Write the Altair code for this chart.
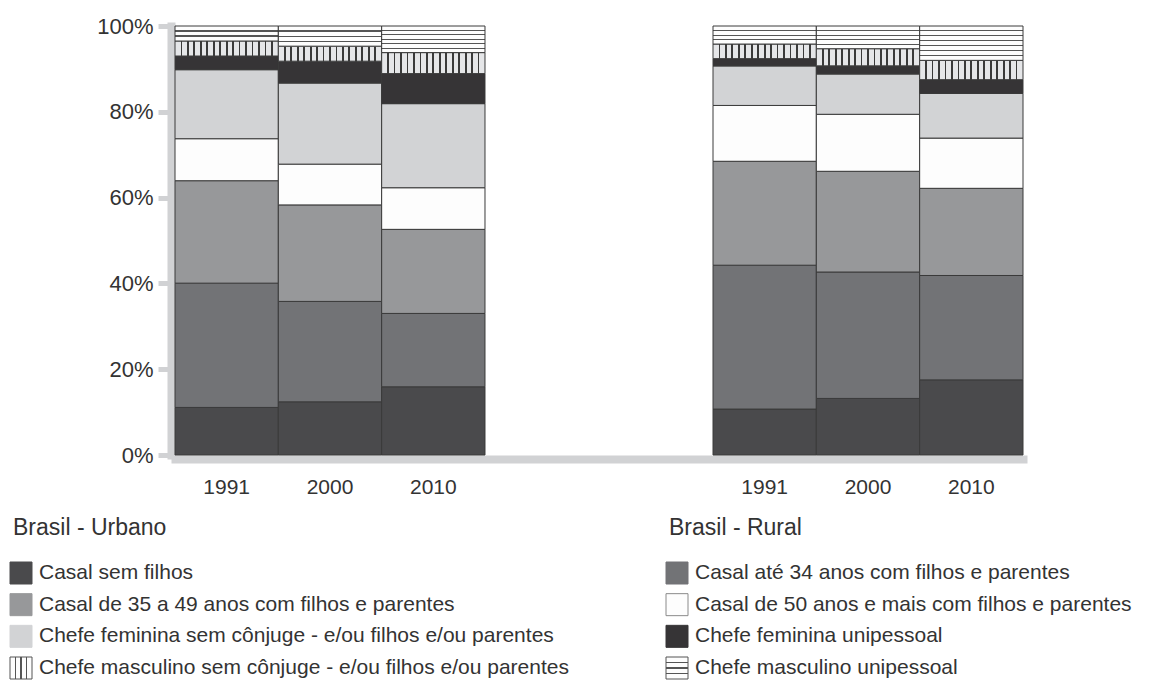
import math
import altair as alt
import pandas as pd

# ---------------- data ----------------
categories = [
    "Casal sem filhos",
    "Casal até 34 anos com filhos e parentes",
    "Casal de 35 a 49 anos com filhos e parentes",
    "Casal de 50 anos e mais com filhos e parentes",
    "Chefe feminina sem cônjuge - e/ou filhos e/ou parentes",
    "Chefe feminina unipessoal",
    "Chefe masculino sem cônjuge - e/ou filhos e/ou parentes",
    "Chefe masculino unipessoal",
]
regions = ["Urbano", "Rural"]
region_titles = ["Brasil - Urbano", "Brasil - Rural"]
years = ["1991", "2000", "2010"]

# shares (%) per bar, bottom to top, same order as categories
urbano_1991 = [11.1, 29.0, 23.9, 9.8, 16.1, 3.2, 3.5, 3.5]
urbano_2000 = [12.4, 23.4, 22.5, 9.5, 18.9, 5.1, 3.5, 4.7]
urbano_2010 = [15.9, 17.1, 19.6, 9.7, 19.6, 7.0, 4.9, 6.2]
rural_1991 = [10.7, 33.5, 24.2, 13.0, 9.2, 1.7, 3.4, 4.2]
rural_2000 = [13.2, 29.5, 23.5, 13.3, 9.4, 1.9, 4.0, 5.3]
rural_2010 = [17.5, 24.3, 20.3, 11.7, 10.4, 3.2, 4.5, 8.0]

y_ticks = [0, 0.2, 0.4, 0.6, 0.8, 1.0]

series = {
    ("Urbano", "1991"): urbano_1991,
    ("Urbano", "2000"): urbano_2000,
    ("Urbano", "2010"): urbano_2010,
    ("Rural", "1991"): rural_1991,
    ("Rural", "2000"): rural_2000,
    ("Rural", "2010"): rural_2010,
}
rows = []
for (reg, yr), vals in series.items():
    for i, (cat, v) in enumerate(zip(categories, vals)):
        rows.append({"region": reg, "year": yr, "category": cat, "ord": i, "value": v})
df = pd.DataFrame(rows)
legend_df = pd.DataFrame({"category": categories, "ord": list(range(len(categories)))})
titles_df = pd.DataFrame({"title": region_titles, "col": [0, 1]})

# ---------------- styles ----------------
FONT = "Liberation Sans"
TXT = "#333333"
AXIS_GRAY = "#d1d2d4"
EDGE = "#3a3a3a"
fill_colors = ["#4a4a4c", "#727376", "#97989a", "#fdfdfd", "#d2d3d5", "#363436", "#e5e6e8", "#fdfdfd"]
legend_strokes = ["#4a4a4c", "#727376", "#97989a", "#8a8a8a", "#d2d3d5", "#363436", "#555555", "#555555"]


def stripes(direction, n, d, bg, line):
    stops = [{"offset": 0, "color": bg}]
    for i in range(1, n):
        o = i / n
        stops += [
            {"offset": o - d, "color": bg},
            {"offset": o - d, "color": line},
            {"offset": o + d, "color": line},
            {"offset": o + d, "color": bg},
        ]
    stops.append({"offset": 1, "color": bg})
    if direction == "v":
        x1, y1, x2, y2 = 0, 0, 1, 0
    else:
        x1, y1, x2, y2 = 0, 0, 0, 1
    return {"gradient": "linear", "x1": x1, "y1": y1, "x2": x2, "y2": y2, "stops": stops}


# ---------------- bars ----------------
x_enc = alt.X(
    "region:N",
    scale=alt.Scale(domain=regions, paddingInner=0.4238, paddingOuter=0),
    axis=alt.Axis(title=None, labels=False, ticks=False, grid=False,
                  domainColor=AXIS_GRAY, domainWidth=8, domainCap="square", offset=4),
)
xo_enc = alt.XOffset("year:N", scale=alt.Scale(domain=years, paddingInner=0, paddingOuter=0))
y_enc = alt.Y(
    "y0:Q",
    scale=alt.Scale(domain=[0, 1], nice=False, zero=True),
    axis=alt.Axis(title=None, values=y_ticks, format=".0%", grid=False,
                  domainColor=AXIS_GRAY, domainWidth=8, domainCap="square", offset=4,
                  tickColor=AXIS_GRAY, tickSize=13, tickWidth=5,
                  labelFont=FONT, labelFontSize=22, labelColor=TXT, labelPadding=5),
)
y2_enc = alt.Y2("y1:Q")

base = alt.Chart(df).transform_stack(
    stack="value", groupby=["region", "year"],
    sort=[alt.SortField("ord", order="ascending")],
    as_=["y0", "y1"], offset="normalize",
)

solid = base.transform_filter("datum.ord < 6").mark_bar(stroke=EDGE, strokeWidth=1).encode(
    x=x_enc, xOffset=xo_enc, y=y_enc, y2=y2_enc,
    color=alt.Color("category:N", scale=alt.Scale(domain=categories, range=fill_colors), legend=None),
)
vstripe = base.transform_filter("datum.ord == 6").mark_bar(
    fill=stripes("v", 16, 0.0085, "#e5e6e8", "#3a3a3a"), stroke=EDGE, strokeWidth=1
).encode(x=x_enc, xOffset=xo_enc, y=y_enc, y2=y2_enc)

masc_unip = [v[7] for v in series.values()]
ns = sorted({int(math.floor(v * 0.9 + 0.5)) for v in masc_unip})
hstripes = []
for n in ns:
    hstripes.append(
        base.transform_filter(f"datum.ord == 7 && round(datum.value * 0.9) == {n}").mark_bar(
            fill=stripes("h", n, 0.11 / n, "#fdfdfd", "#555555"), stroke=EDGE, strokeWidth=1
        ).encode(x=x_enc, xOffset=xo_enc, y=y_enc, y2=y2_enc)
    )

year_labels = alt.Chart(df).transform_filter("datum.ord == 0").mark_text(
    font=FONT, fontSize=21, color=TXT, baseline="middle", align="center"
).encode(x=x_enc, xOffset=xo_enc, y=alt.value(462), text="year:N")

bars_layer = alt.layer(solid, vstripe, *hstripes, year_labels)

# ---------------- legend ----------------
lx = alt.X("col:Q", scale=alt.Scale(domain=[0, 1], range=[-154, 502], nice=False, zero=False), axis=None)
ly = alt.Y("row:Q", scale=alt.Scale(domain=[0, 3], range=[547, 642], nice=False, zero=False), axis=None)
leg_base = alt.Chart(legend_df).transform_calculate(col="datum.ord % 2", row="floor(datum.ord / 2)")

leg_solid = leg_base.transform_filter("datum.ord < 6").mark_square(size=484, opacity=1, strokeWidth=1).encode(
    x=lx, y=ly,
    fill=alt.Fill("category:N", scale=alt.Scale(domain=categories, range=fill_colors), legend=None),
    stroke=alt.Stroke("category:N", scale=alt.Scale(domain=categories, range=legend_strokes), legend=None),
)
leg_v = leg_base.transform_filter("datum.ord == 6").mark_square(
    size=484, opacity=1, fill=stripes("v", 4, 0.03, "#fdfdfd", "#555555"), stroke="#555555", strokeWidth=1
).encode(x=lx, y=ly)
leg_h = leg_base.transform_filter("datum.ord == 7").mark_square(
    size=484, opacity=1, fill=stripes("h", 4, 0.03, "#fdfdfd", "#555555"), stroke="#555555", strokeWidth=1
).encode(x=lx, y=ly)
leg_text = leg_base.mark_text(
    align="left", baseline="middle", dx=18, font=FONT, fontSize=21, color=TXT
).encode(x=lx, y=ly, text="category:N")
titles = alt.Chart(titles_df).mark_text(
    align="left", baseline="middle", dx=-8, font=FONT, fontSize=23, color=TXT
).encode(x=lx, y=alt.value(502), text="title:N")

legend_layer = alt.layer(leg_solid, leg_v, leg_h, leg_text, titles)

chart = (
    alt.layer(bars_layer, legend_layer)
    .resolve_scale(x="independent", y="independent")
    .properties(
        width=848, height=429,
        padding={"left": 167, "top": 18, "right": 120, "bottom": 226},
        autosize=alt.AutoSizeParams(type="none"),
    )
    .configure_view(stroke=None)
)

chart.save("out.html", embed_options={"renderer": "svg", "actions": False})
